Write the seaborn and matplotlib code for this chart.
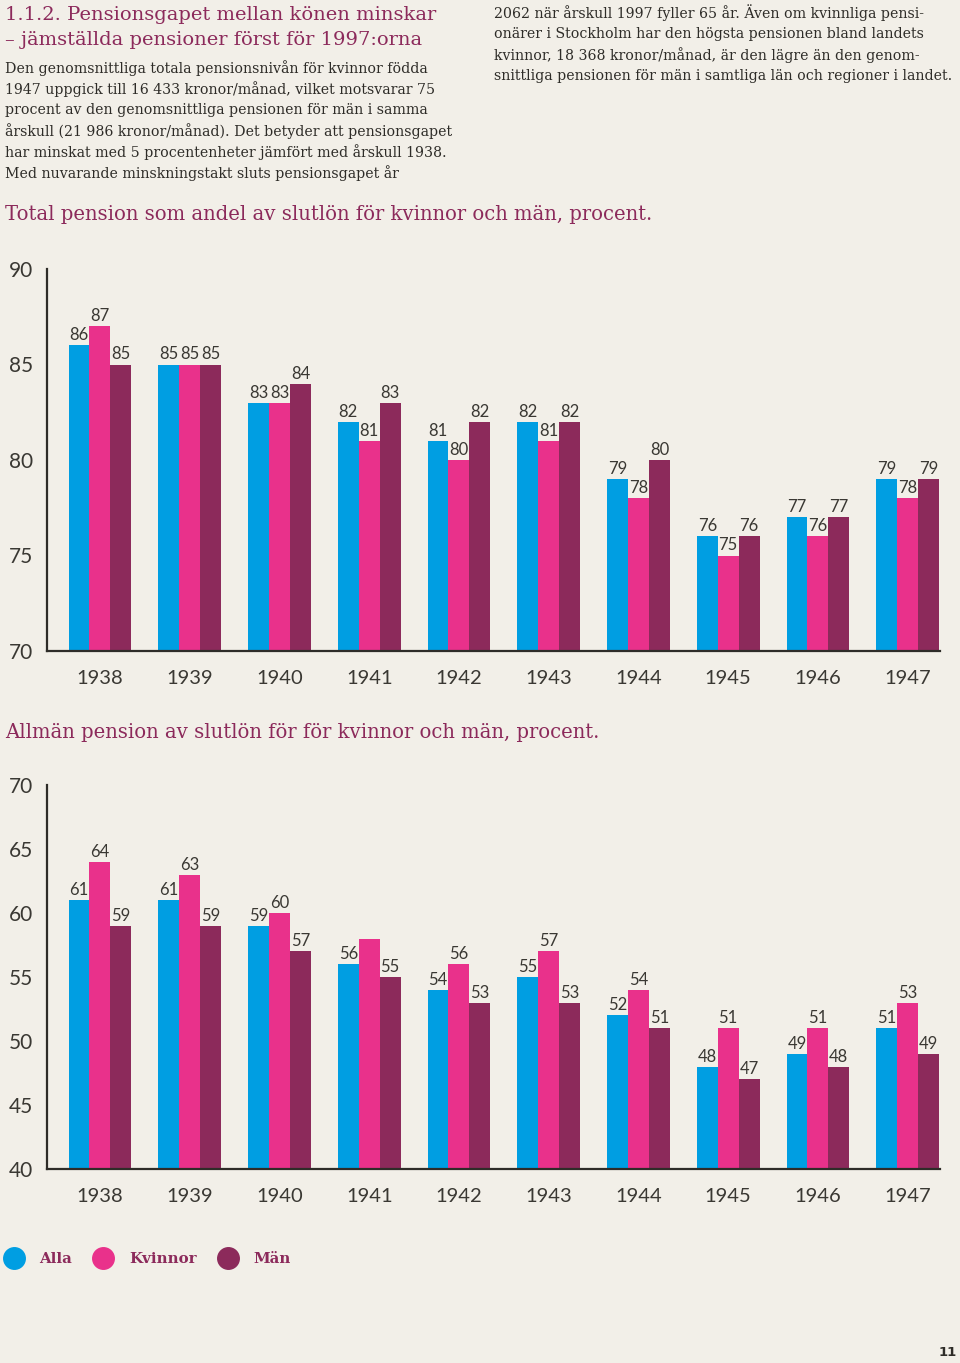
import pandas as pd
import matplotlib.pyplot as plt
import seaborn as sns
from matplotlib.lines import Line2D

# Data
years = ['1938', '1939', '1940', '1941', '1942', '1943', '1944', '1945', '1946', '1947']
groups = ['Alla', 'Kvinnor', 'Män']

total_alla = [86, 85, 83, 82, 81, 82, 79, 76, 77, 79]
total_kvinnor = [87, 85, 83, 81, 80, 81, 78, 75, 76, 78]
total_man = [85, 85, 84, 83, 82, 82, 80, 76, 77, 79]

allman_alla = [61, 61, 59, 56, 54, 55, 52, 48, 49, 51]
allman_kvinnor = [64, 63, 60, 58, 56, 57, 54, 51, 51, 53]
allman_man = [59, 59, 57, 55, 53, 53, 51, 47, 48, 49]

colors = ['#009ee2', '#e9318b', '#8c2a5b']
purple = '#8c2a5b'
dark = '#2e2c28'
bg = '#f2efe8'

title_lines = ['1.1.2. Pensionsgapet mellan könen minskar',
               '– jämställda pensioner först för 1997:orna']
left_lines = ['Den genomsnittliga totala pensionsnivån för kvinnor födda',
              '1947 uppgick till 16 433 kronor/månad, vilket motsvarar 75',
              'procent av den genomsnittliga pensionen för män i samma',
              'årskull (21 986 kronor/månad). Det betyder att pensionsgapet',
              'har minskat med 5 procentenheter jämfört med årskull 1938.',
              'Med nuvarande minskningstakt sluts pensionsgapet år']
right_lines = ['2062 när årskull 1997 fyller 65 år. Även om kvinnliga pensi-',
               'onärer i Stockholm har den högsta pensionen bland landets',
               'kvinnor, 18 368 kronor/månad, är den lägre än den genom-',
               'snittliga pensionen för män i samtliga län och regioner i landet.']


def long_df(alla, kvinnor, man):
    rows = []
    for g, vals in zip(groups, [alla, kvinnor, man]):
        for y, v in zip(years, vals):
            rows.append({'År': y, 'Grupp': g, 'Procent': v})
    return pd.DataFrame(rows)


sns.set_style('white')
plt.rcParams['font.family'] = ['Lato', 'DejaVu Sans']

W, H = 960, 1363
fig = plt.figure(figsize=(W / 100, H / 100), dpi=100, facecolor=bg)

num_color = '#3a3833'


def fy(py):
    return 1 - py / H


def draw_chart(ax, df, ylim, yticks, hidden=()):
    sns.barplot(data=df, x='År', y='Procent', hue='Grupp', palette=colors,
                width=0.7, gap=0, saturation=1, errorbar=None, legend=False,
                linewidth=0, ax=ax)
    ax.set_facecolor(bg)
    ax.set_ylim(*ylim)
    ax.set_xlim(-0.59, 9.36)
    ax.set_yticks(yticks)
    ax.set_xlabel('')
    ax.set_ylabel('')
    for s in ['top', 'right']:
        ax.spines[s].set_visible(False)
    for s in ['left', 'bottom']:
        ax.spines[s].set_linewidth(1.6)
        ax.spines[s].set_color(dark)
    ax.tick_params(axis='y', direction='in', length=9.5, width=1.6, color=dark,
                   pad=10, labelsize=15, labelcolor=num_color)
    ax.tick_params(axis='x', length=0, pad=14, labelsize=14.5, labelcolor=num_color)
    for gi, cont in enumerate(ax.containers):
        labels = []
        for yi, bar in enumerate(cont):
            labels.append('' if (gi, yi) in hidden else f'{bar.get_height():.0f}')
        ax.bar_label(cont, labels=labels, padding=1.5, fontsize=12, color=num_color)


# Chart 1
ax1 = fig.add_axes([47 / W, fy(651), 893 / W, (651 - 269) / H])
draw_chart(ax1, long_df(total_alla, total_kvinnor, total_man), (70, 90), [70, 75, 80, 85, 90])

# Chart 2
ax2 = fig.add_axes([47 / W, fy(1169), 893 / W, (1169 - 785) / H])
draw_chart(ax2, long_df(allman_alla, allman_kvinnor, allman_man), (40, 70),
           [40, 45, 50, 55, 60, 65, 70], hidden={(1, 3)})

# Texts
serif = 'DejaVu Serif'
for i, line in enumerate(title_lines):
    fig.text(5 / W, fy(15 + 25 * i), line, family=serif, fontsize=14.0,
             color=purple, va='center', ha='left')
for i, line in enumerate(left_lines):
    fig.text(5 / W, fy(68 + 21 * i), line, family=serif, fontsize=10.2,
             color=dark, va='center', ha='left')
for i, line in enumerate(right_lines):
    fig.text(494 / W, fy(13 + 21 * i), line, family=serif, fontsize=10.2,
             color=dark, va='center', ha='left')

fig.text(5 / W, fy(215), 'Total pension som andel av slutlön för kvinnor och män, procent.',
         family=serif, fontsize=14.1, color=purple, va='center', ha='left')
fig.text(5 / W, fy(733), 'Allmän pension av slutlön för för kvinnor och män, procent.',
         family=serif, fontsize=14.1, color=purple, va='center', ha='left')

# Legend
handles = [Line2D([], [], marker='o', linestyle='', markersize=15.5, color=c) for c in colors]
leg = fig.legend(handles, groups, loc='center left', bbox_to_anchor=(6 / W, fy(1259)),
                 ncol=3, frameon=False, borderaxespad=0, borderpad=0,
                 handlelength=1.0, handletextpad=1.2, columnspacing=1.6,
                 prop={'family': serif, 'weight': 'bold', 'size': 10.8})
for t in leg.get_texts():
    t.set_color(purple)

fig.text(948 / W, fy(1352), '11', family='DejaVu Sans', fontsize=9.5, weight='bold',
         color=dark, ha='center', va='center')

fig.savefig('out.png', dpi=100, facecolor=bg)
